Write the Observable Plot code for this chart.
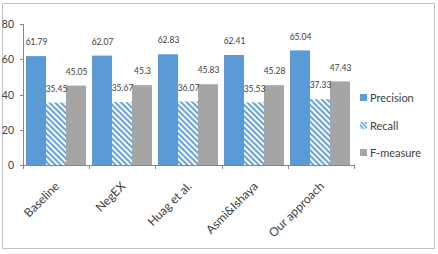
<!DOCTYPE html>
<html>
<head>
<meta charset="utf-8">
<script src="https://cdn.jsdelivr.net/npm/d3@7"></script>
<script src="https://cdn.jsdelivr.net/npm/@observablehq/plot@0.6"></script>
<style>
  body { margin: 0; background: #fff; font-family: Lato, "Open Sans", sans-serif; }
  #wrap { position: relative; width: 438px; height: 254px; }
  #frame { position: absolute; left: 2px; top: 3px; width: 433px; height: 246px; border: 1px solid #c4c4c4; box-sizing: border-box; }
  #chart { position: absolute; left: 0; top: 0; }
  #legend { position: absolute; left: 360px; top: 84px; font-size: 11px; color: #404040; }
  .item { display: flex; align-items: center; height: 27.5px; }
  .sw { width: 7px; height: 7px; margin-right: 3px; display: block; }
</style>
</head>
<body>
<div id="wrap">
  <div id="frame"></div>
  <div id="chart"></div>
  <div id="legend"></div>
</div>
<script>
// Negation detection results per method
const categories = ["Baseline", "NegEX", "Huag et al.", "Asmi&Ishaya", "Our approach"];
const series = ["Precision", "Recall", "F-measure"];
const precision = [61.79, 62.07, 62.83, 62.41, 65.04];
const recall = [35.45, 35.67, 36.07, 35.53, 37.33];
const fmeasure = [45.05, 45.3, 45.83, 45.28, 47.43];
const yTicks = [0, 20, 40, 60, 80];

const fills = { "Precision": "#5b9bd5", "Recall": "url(#hatch)", "F-measure": "#a5a5a5" };
const valuesBySeries = { "Precision": precision, "Recall": recall, "F-measure": fmeasure };

const rows = categories.flatMap((c, i) =>
  series.map(s => ({ category: c, series: s, value: valuesBySeries[s][i] }))
);

const chart = Plot.plot({
  width: 438,
  height: 254,
  marginLeft: 23,
  marginRight: 84,
  marginTop: 24,
  marginBottom: 89,
  style: { fontFamily: "Lato, 'Open Sans', sans-serif", fontSize: "10px", color: "#404040", background: "transparent", overflow: "visible" },
  fx: { domain: categories, paddingInner: 0.06, paddingOuter: 0.03, label: null, axis: null },
  x: { domain: series, padding: 0, axis: null },
  y: { domain: [0, 80], label: null, axis: null },
  marks: [
    ...series.map(s => Plot.barY(rows.filter(d => d.series === s), {
      fx: "category", x: "series", y: "value", fill: fills[s]
    })),
    Plot.text(rows, {
      fx: "category", x: "series", y: "value", text: d => String(d.value),
      dy: -14, fontSize: 8.5, fill: "#404040"
    })
  ]
});

document.getElementById("chart").append(chart);

// Hatch pattern for the Recall bars
const svg = d3.select(chart);
svg.insert("defs", ":first-child").html(
  `<pattern id="hatch" patternUnits="userSpaceOnUse" width="4" height="4" patternTransform="rotate(-45)">
     <rect width="4" height="4" fill="#ffffff"></rect>
     <rect width="2.1" height="4" fill="#6aa3d8"></rect>
   </pattern>`
);

// Axes drawn from the chart's own scales
const fx = chart.scale("fx");
const y = chart.scale("y");
const yScale = d3.scaleLinear(y.domain, y.range);
const [x0, x1] = fx.range;
const y0 = yScale(0);
const axes = svg.append("g").attr("stroke", "#868686").attr("stroke-width", 1);
axes.append("line").attr("x1", x0).attr("x2", x1).attr("y1", y0 + 0.5).attr("y2", y0 + 0.5);
axes.append("line").attr("x1", x0 + 0.5).attr("x2", x0 + 0.5).attr("y1", yScale(80)).attr("y2", y0);
const n = categories.length;
d3.range(n + 1).forEach(i => {
  const xb = Math.round(x0 + i * (x1 - x0) / n) + 0.5;
  axes.append("line").attr("x1", xb).attr("x2", xb).attr("y1", y0).attr("y2", y0 + 4);
});
const tickLabels = svg.append("g").attr("fill", "#404040").attr("font-size", 10.5).attr("text-anchor", "end");
yTicks.forEach(t => {
  const yt = Math.round(yScale(t)) + 0.5;
  axes.append("line").attr("x1", x0 - 3).attr("x2", x0).attr("y1", yt).attr("y2", yt);
  tickLabels.append("text").attr("x", x0 - 9).attr("y", yt).attr("dy", "0.35em").text(String(t));
});
// Rotated category labels
const band = d3.scaleBand(categories, [x0, x1]).paddingInner(0.06).paddingOuter(0.03);
categories.forEach(c => {
  const cx = band(c) + band.bandwidth() / 2;
  svg.append("text")
    .attr("transform", `translate(${cx + 1},${y0 + 19}) rotate(-45)`)
    .attr("text-anchor", "end").attr("dy", "0.35em")
    .attr("fill", "#404040").attr("font-size", 12).text(c);
});

// Legend
const legend = d3.select("#legend");
series.forEach(s => {
  const item = legend.append("div").attr("class", "item");
  const sw = item.append("svg").attr("class", "sw").attr("width", 7).attr("height", 7);
  if (s === "Recall") {
    sw.append("defs").html(
      `<pattern id="hatch-key" patternUnits="userSpaceOnUse" width="3" height="3" patternTransform="rotate(-45)">
         <rect width="3" height="3" fill="#fff"></rect><rect width="1.5" height="3" fill="#5b9bd5"></rect>
       </pattern>`);
    sw.append("rect").attr("width", 7).attr("height", 7).attr("fill", "url(#hatch-key)");
  } else {
    sw.append("rect").attr("width", 7).attr("height", 7).attr("fill", fills[s]);
  }
  item.append("span").text(s);
});
</script>
</body>
</html>
